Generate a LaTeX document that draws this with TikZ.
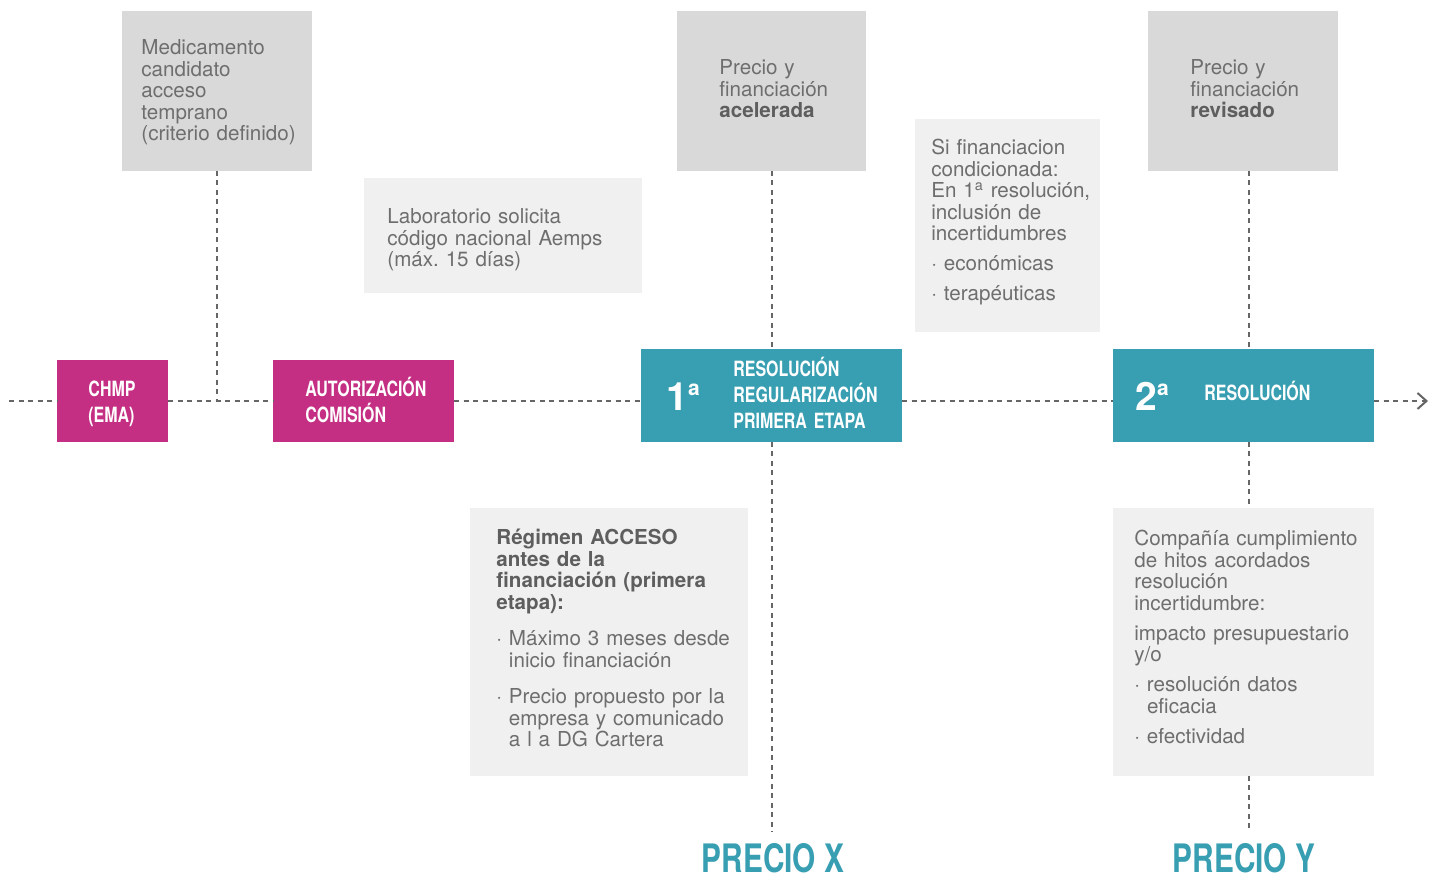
\documentclass[tikz,border=0pt]{standalone}
\usepackage{fontspec}
\setmainfont{TeX Gyre Heros}
\newfontfamily\condfont{TeX Gyre Heros}[FakeStretch=0.76]
\usetikzlibrary{arrows.meta}
\definecolor{magbox}{HTML}{C42F83}
\definecolor{tealbox}{HTML}{389FB2}
\definecolor{darkgrey}{HTML}{D9D9D9}
\definecolor{lightgrey}{HTML}{F0F0F0}
\definecolor{txtgrey}{HTML}{6E6E6E}
\definecolor{boldgrey}{HTML}{5E5E5E}
\definecolor{linegrey}{HTML}{666666}
\frenchspacing
\begin{document}
\begin{tikzpicture}[x=0.5pt,y=-0.5pt,
  box/.style={draw=none, inner sep=0, outer sep=0},
  dbox/.style={box, fill=darkgrey},
  lbox/.style={box, fill=lightgrey},
  mbox/.style={box, fill=magbox},
  tbox/.style={box, fill=tealbox},
  gtext/.style={anchor=base west, inner sep=0, align=left, text width=170pt, text=txtgrey,
    font=\fontsize{10.3pt}{10.75pt}\selectfont},
  wtext/.style={anchor=base west, inner sep=0, align=left, text width=110pt, text=white,
    font=\condfont\bfseries\fontsize{10.5pt}{13pt}\selectfont},
  ordtext/.style={anchor=base west, inner sep=0, text=white,
    font=\bfseries\fontsize{19.5pt}{19.5pt}\selectfont},
  ptext/.style={anchor=base, inner sep=0, text=tealbox,
    font=\condfont\bfseries\fontsize{19.6pt}{19.6pt}\selectfont},
  dline/.style={draw=linegrey, line width=1pt, dash pattern=on 2.5pt off 2.25pt}
]
\useasboundingbox (0,0) rectangle (1437,881);
\fill[white] (0,0) rectangle (1437,881);

% boxes
\node[dbox, minimum width=95pt, minimum height=80pt] (b1) at (217,91) {};
\node[dbox, minimum width=94.5pt, minimum height=80pt] (b2) at (771.5,91) {};
\node[dbox, minimum width=95pt, minimum height=80pt] (b3) at (1243,91) {};
\node[lbox, minimum width=139pt, minimum height=57.5pt] (lab) at (503,235.5) {};
\node[lbox, minimum width=92.5pt, minimum height=106.5pt] (sif) at (1007.5,225.5) {};
\node[lbox, minimum width=139pt, minimum height=134pt] (reg) at (609,642) {};
\node[lbox, minimum width=130.5pt, minimum height=134pt] (comp) at (1243.5,642) {};
\node[mbox, minimum width=55.5pt, minimum height=41pt] (chmp) at (112.5,401) {};
\node[mbox, minimum width=90.5pt, minimum height=41pt] (aut) at (363.5,401) {};
\node[tbox, minimum width=130.5pt, minimum height=46.5pt] (r1) at (771.5,395.5) {};
\node[tbox, minimum width=130.5pt, minimum height=46.5pt] (r2) at (1243.5,395.5) {};

% coordinates
\coordinate (tlstart) at (9,401);
\coordinate (tlend) at (1428,401);
\coordinate (xl) at (1249,0);
\coordinate (endX) at (771.5,832);
\coordinate (endY) at (1249,830);

% connectors
\draw[dline] (tlstart) -- (chmp.west);
\draw[dline] (chmp.east) -- (aut.west);
\draw[dline] (aut.east) -- (aut.east -| r1.west);
\draw[dline] (r1.east |- aut.east) -- (r2.west |- aut.east);
\draw[dline, -{Straight Barb[length=4.5pt,width=8pt]}] (r2.east |- aut.east) -- (tlend);
\draw[dline] (b1.south) -- (b1.south |- chmp.east);
\draw[dline] (b2.south) -- (r1.north);
\draw[dline] (r1.south) -- (endX);
\draw[dline] (b3.south -| xl) -- (r2.north -| xl);
\draw[dline] (r2.south -| xl) -- (comp.north -| xl);
\draw[dline] (comp.south -| xl) -- (endY);

% texts
\node[gtext] (t1) at (141,55) {Medicamento\\candidato\\acceso\\temprano\\(criterio definido)};
\node[gtext] (t2) at (719,75) {Precio y\\financiación\\{\color{boldgrey}\bfseries acelerada}};
\node[gtext] (t3) at (1190,75) {Precio y\\financiación\\{\color{boldgrey}\bfseries revisado}};
\node[gtext] (t4) at (387,224) {Laboratorio solicita\\código nacional Aemps\\(máx. 15 días)};
\node[gtext] (t5) at (931,155) {\setlength{\parskip}{4.25pt}Si financiacion\\condicionada:\\En 1\textsuperscript{a} resolución,\\inclusión de\\incertidumbres\par
· económicas\par
· terapéuticas};
\node[gtext] (t6) at (496,545) {\setlength{\parskip}{7.5pt}{\color{boldgrey}\bfseries Régimen ACCESO\\antes de la\\financiación (primera\\etapa):}\par
· Máximo 3 meses desde\\\phantom{· }inicio financiación\par
· Precio propuesto por la\\\phantom{· }empresa y comunicado\\\phantom{· }a l a DG Cartera};
\node[gtext] (t7) at (1134,546) {\setlength{\parskip}{4.25pt}Compañía cumplimiento\\de hitos acordados\\resolución\\incertidumbre:\par
impacto presupuestario\\y/o\par
· resolución datos\\\phantom{· }eficacia\par
· efectividad};

\node[wtext] (tchmp) at (88,397) {CHMP\\(EMA)};
\node[wtext] (taut) at (305,397) {AUTORIZACIÓN\\COMISIÓN};
\node[ordtext] (o1) at (666,411) {1\raisebox{7.5pt}{\fontsize{10.5pt}{10.5pt}\selectfont a}};
\node[wtext] (tr1) at (733,377) {RESOLUCIÓN\\REGULARIZACIÓN\\PRIMERA ETAPA};
\node[ordtext] (o2) at (1135,411) {2\raisebox{7.5pt}{\fontsize{10.5pt}{10.5pt}\selectfont a}};
\node[wtext] (tr2) at (1204,401) {RESOLUCIÓN};

\node[ptext] (px) at (773,873) {PRECIO X};
\node[ptext] (py) at (1244,873) {PRECIO Y};
\end{tikzpicture}
\end{document}
